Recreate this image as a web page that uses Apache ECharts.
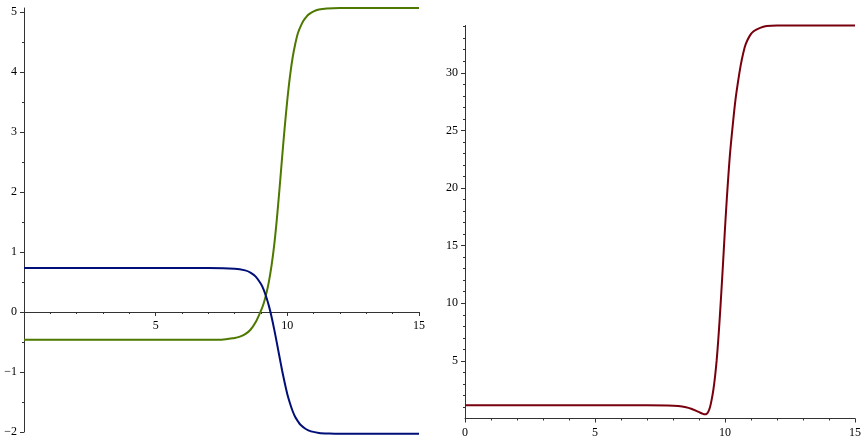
<!DOCTYPE html>
<html>
<head>
<meta charset="utf-8">
<script src="https://cdn.jsdelivr.net/npm/echarts@6/dist/echarts.min.js"></script>
<style>html,body{margin:0;padding:0;background:#fff;}#c{width:868px;height:442px;}</style>
</head>
<body>
<div id="c"></div>
<script>
// Left panel: blue (navy) curve
const blueX = [0, 7.0, 8.0, 8.4, 8.6, 8.8, 9.0, 9.1, 9.2, 9.3, 9.4, 9.5, 9.6, 9.7, 9.8, 9.9, 10.0, 10.1, 10.2, 10.3, 10.4, 10.5, 10.7, 10.9, 11.2, 11.6, 12.0, 15];
const blueY = [0.733, 0.733, 0.723, 0.695, 0.659, 0.592, 0.467, 0.374, 0.252, 0.103, -0.077, -0.284, -0.51, -0.742, -0.97, -1.18, -1.37, -1.52, -1.65, -1.75, -1.82, -1.88, -1.95, -1.99, -2.015, -2.026, -2.03, -2.03];
// Left panel: green (olive) curve
const greenX = [0, 7.5, 8.0, 8.2, 8.4, 8.6, 8.8, 9.0, 9.1, 9.2, 9.3, 9.4, 9.5, 9.6, 9.7, 9.8, 9.9, 10.0, 10.1, 10.2, 10.3, 10.4, 10.5, 10.6, 10.7, 10.8, 11.0, 11.2, 11.5, 12.0, 15];
const greenY = [-0.46, -0.46, -0.432, -0.41, -0.369, -0.295, -0.167, 0.025, 0.143, 0.303, 0.507, 0.773, 1.11, 1.54, 2.04, 2.57, 3.08, 3.54, 3.93, 4.24, 4.47, 4.65, 4.76, 4.85, 4.91, 4.96, 5.015, 5.045, 5.062, 5.07, 5.07];
// Right panel: red (burgundy) curve
const redX = [0, 7.0, 7.8, 8.2, 8.5, 8.7, 8.9, 9.05, 9.15, 9.23, 9.3, 9.36, 9.42, 9.48, 9.55, 9.62, 9.68, 9.74, 9.8, 9.86, 9.92, 9.98, 10.04, 10.1, 10.19, 10.3, 10.4, 10.5, 10.6, 10.7, 10.8, 10.95, 11.1, 11.35, 11.6, 12.0, 15];
const redY = [1.15, 1.15, 1.13, 1.08, 0.98, 0.85, 0.66, 0.5, 0.4, 0.36, 0.42, 0.6, 0.95, 1.55, 2.45, 3.7, 5.06, 6.8, 8.8, 11.0, 13.3, 15.7, 18.0, 20.1, 22.9, 25.5, 27.6, 29.2, 30.6, 31.7, 32.5, 33.2, 33.6, 33.9, 34.05, 34.1, 34.1];

// Tick labels
const leftXTicks = [5, 10, 15];
const leftYTicks = [-2, -1, 0, 1, 2, 3, 4, 5];
const rightXTicks = [0, 5, 10, 15];
const rightYTicks = [5, 10, 15, 20, 25, 30];

const zip = (xs, ys) => xs.map((x, i) => [x, ys[i]]);
const fmt = v => String(v).replace('-', '\u2212');
const font = { fontFamily: 'Liberation Serif', fontSize: 12, color: '#000' };
const lineStyle = { color: '#333', width: 1 };

function axis(grid, dim, min, max, interval, ticks, minorSplit, extra) {
  return Object.assign({
    type: 'value', gridIndex: grid, min: min, max: max, interval: interval,
    axisLine: { show: true, onZero: false, lineStyle: lineStyle },
    axisTick: { show: true, length: 4, lineStyle: lineStyle, customValues: ticks },
    minorTick: { show: true, splitNumber: minorSplit, length: 2, lineStyle: lineStyle },
    axisLabel: Object.assign({ customValues: ticks, formatter: fmt, margin: dim === 'x' ? 8 : 7 }, font),
    splitLine: { show: false }, minorSplitLine: { show: false }
  }, extra || {});
}

const chart = echarts.init(document.getElementById('c'), null, { renderer: 'canvas' });
chart.setOption({
  animation: false,
  backgroundColor: '#fff',
  grid: [
    { left: 24, top: 8, width: 395, height: 424, containLabel: false, outerBoundsMode: 'none' },
    { left: 465, top: 25.5, width: 390, height: 393, containLabel: false, outerBoundsMode: 'none' }
  ],
  xAxis: [
    axis(0, 'x', 0, 15, 5, leftXTicks, 5, { position: 'bottom', offset: -120 }),
    axis(1, 'x', 0, 15, 5, rightXTicks, 5, { position: 'bottom' })
  ],
  yAxis: [
    axis(0, 'y', -2, 5.07, 1, leftYTicks, 2, { position: 'left' }),
    axis(1, 'y', 0, 34.1, 5, rightYTicks, 5, { position: 'left' })
  ],
  series: [
    { type: 'line', xAxisIndex: 0, yAxisIndex: 0, data: zip(greenX, greenY), showSymbol: false, smooth: 0.3, clip: false,
      lineStyle: { color: '#4E7800', width: 2 } },
    { type: 'line', xAxisIndex: 0, yAxisIndex: 0, data: zip(blueX, blueY), showSymbol: false, smooth: 0.3, clip: false,
      lineStyle: { color: '#000E78', width: 2 } },
    { type: 'line', xAxisIndex: 1, yAxisIndex: 1, data: zip(redX, redY), showSymbol: false, smooth: 0.3, clip: false,
      lineStyle: { color: '#78000E', width: 2 } }
  ]
});
</script>
</body>
</html>
